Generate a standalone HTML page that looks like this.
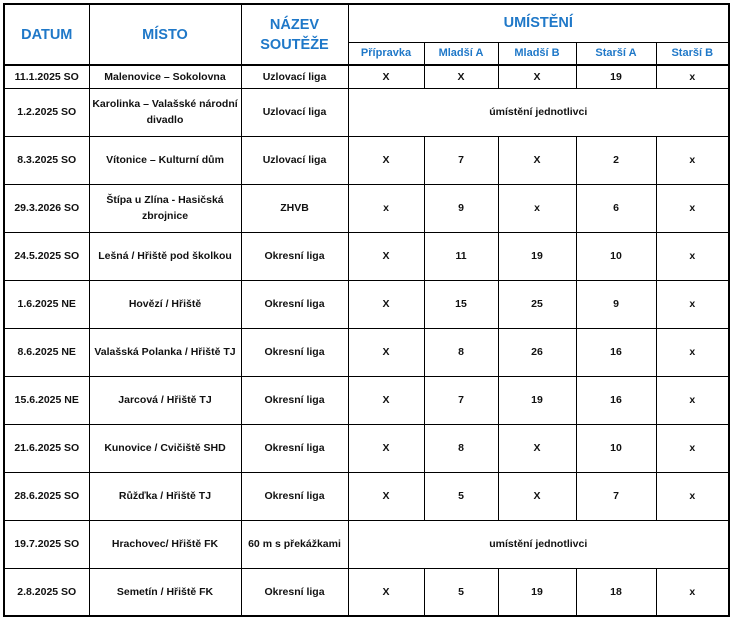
<!DOCTYPE html>
<html><head><meta charset="utf-8"><style>
body{margin:0;background:#fff;width:732px;height:618px;overflow:hidden}
table{position:absolute;left:3px;top:3px;border-collapse:collapse;table-layout:fixed;border:2.5px solid #000;font-family:"Liberation Sans",sans-serif;font-weight:bold;font-size:10.5px;color:#111}
td{border:1px solid #000;text-align:center;vertical-align:middle;padding:0 2px;line-height:16px;overflow:hidden}
.h{color:#1f78c8;font-size:14.5px;line-height:20px}
.s{color:#1f78c8;font-size:11px}
.hb td{border-bottom:2.5px solid #000}
</style></head><body>
<table>
<colgroup><col style="width:85px"><col style="width:152px"><col style="width:107px"><col style="width:76px"><col style="width:74px"><col style="width:78px"><col style="width:80px"><col style="width:73px"></colgroup>
<tr style="height:38px"><td rowspan="2" class="h" style="border-bottom:2.5px solid #000">DATUM</td><td rowspan="2" class="h" style="border-bottom:2.5px solid #000">MÍSTO</td><td rowspan="2" class="h" style="border-bottom:2.5px solid #000">NÁZEV<br>SOUTĚŽE</td><td colspan="5" class="h">UMÍSTĚNÍ</td></tr>
<tr style="height:23px" class="hb"><td class="s">Přípravka</td><td class="s">Mladší A</td><td class="s">Mladší B</td><td class="s">Starší A</td><td class="s">Starší B</td></tr>
<tr style="height:23px"><td>11.1.2025 SO</td><td>Malenovice – Sokolovna</td><td>Uzlovací liga</td><td>X</td><td>X</td><td>X</td><td>19</td><td>x</td></tr>
<tr style="height:48px"><td>1.2.2025 SO</td><td>Karolinka – Valašské národní divadlo</td><td>Uzlovací liga</td><td colspan="5">úmístění jednotlivci</td></tr>
<tr style="height:48px"><td>8.3.2025 SO</td><td>Vítonice – Kulturní dům</td><td>Uzlovací liga</td><td>X</td><td>7</td><td>X</td><td>2</td><td>x</td></tr>
<tr style="height:48px"><td>29.3.2026 SO</td><td>Štípa u Zlína - Hasičská zbrojnice</td><td>ZHVB</td><td>x</td><td>9</td><td>x</td><td>6</td><td>x</td></tr>
<tr style="height:48px"><td>24.5.2025 SO</td><td>Lešná / Hřiště pod školkou</td><td>Okresní liga</td><td>X</td><td>11</td><td>19</td><td>10</td><td>x</td></tr>
<tr style="height:48px"><td>1.6.2025 NE</td><td>Hovězí / Hřiště</td><td>Okresní liga</td><td>X</td><td>15</td><td>25</td><td>9</td><td>x</td></tr>
<tr style="height:48px"><td>8.6.2025 NE</td><td>Valašská Polanka / Hřiště TJ</td><td>Okresní liga</td><td>X</td><td>8</td><td>26</td><td>16</td><td>x</td></tr>
<tr style="height:48px"><td>15.6.2025 NE</td><td>Jarcová / Hřiště TJ</td><td>Okresní liga</td><td>X</td><td>7</td><td>19</td><td>16</td><td>x</td></tr>
<tr style="height:48px"><td>21.6.2025 SO</td><td>Kunovice / Cvičiště SHD</td><td>Okresní liga</td><td>X</td><td>8</td><td>X</td><td>10</td><td>x</td></tr>
<tr style="height:48px"><td>28.6.2025 SO</td><td>Růžďka / Hřiště TJ</td><td>Okresní liga</td><td>X</td><td>5</td><td>X</td><td>7</td><td>x</td></tr>
<tr style="height:48px"><td>19.7.2025 SO</td><td>Hrachovec/ Hřiště FK</td><td>60 m s překážkami</td><td colspan="5">umístění jednotlivci</td></tr>
<tr style="height:48px"><td>2.8.2025 SO</td><td>Semetín / Hřiště FK</td><td>Okresní liga</td><td>X</td><td>5</td><td>19</td><td>18</td><td>x</td></tr>
</table>
</body></html>
